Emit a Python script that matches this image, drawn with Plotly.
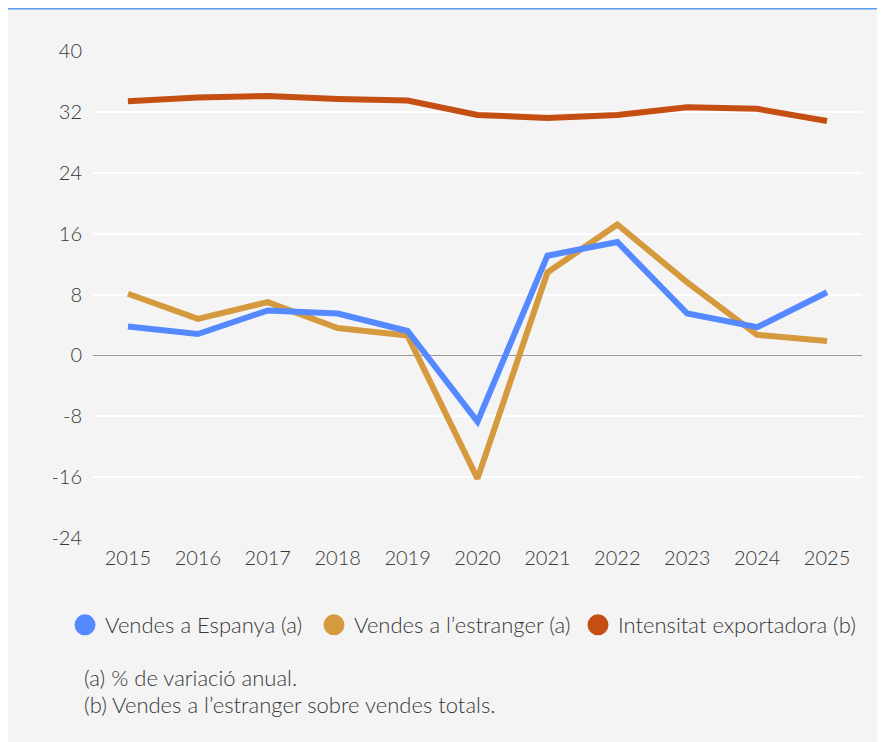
import plotly.graph_objects as go

years = [2015, 2016, 2017, 2018, 2019, 2020, 2021, 2022, 2023, 2024, 2025]
vendes_espanya = [3.8, 2.8, 5.9, 5.5, 3.2, -8.7, 13.1, 14.9, 5.5, 3.7, 8.3]
vendes_estranger = [8.1, 4.8, 7.0, 3.6, 2.6, -16.2, 10.9, 17.2, 9.6, 2.7, 1.9]
intensitat = [33.4, 33.9, 34.1, 33.7, 33.5, 31.6, 31.2, 31.6, 32.6, 32.4, 30.8]
y_ticks = [-24, -16, -8, 0, 8, 16, 24, 32, 40]

names = ["Vendes a Espanya (a)", "Vendes a l\u2019estranger (a)", "Intensitat exportadora (b)"]
colors = ["#5589FF", "#D59A3E", "#C54E13"]
notes = ["(a) % de variació anual.", "(b) Vendes a l\u2019estranger sobre vendes totals."]

FONT = "Lato"
TXT = "#383838"

OFF = 8  # page body margin
W, H = 885 - OFF, 742 - OFF
ML, MR, MT, MB = 93 - OFF, 23, 51 - OFF, H - (538 - OFF)
PW, PH = W - ML - MR, H - MT - MB

def px_x(p):  # screen pixel -> paper
    return (p - OFF - ML) / PW

def px_y(p):
    return (H - MB - (p - OFF)) / PH

fig = go.Figure()

series = [vendes_estranger, intensitat, vendes_espanya]
order = [1, 2, 0]
for vals, idx in zip(series, order):
    fig.add_trace(go.Scatter(
        x=years, y=vals, mode="lines", name=names[idx], showlegend=False,
        line=dict(color=colors[idx], width=6), hoverinfo="x+y+name"))

legend_ids = ["legend", "legend2", "legend3"]
legend_starts = [65, 314, 578]
for i in range(3):
    fig.add_trace(go.Scatter(
        x=[None], y=[None], mode="markers", name=names[i], legend=legend_ids[i],
        marker=dict(color=colors[i], size=16, line=dict(color=colors[i], width=5))))

tickfont = dict(family=FONT, size=20, color=TXT, weight=300)
legfont = dict(family=FONT, size=22, color=TXT, weight=300)
legends = {}
for lid, xs in zip(legend_ids, legend_starts):
    legends[lid] = dict(orientation="h", x=px_x(xs), xanchor="left", y=px_y(625),
                        yanchor="middle", bgcolor="rgba(0,0,0,0)", font=legfont,
                        itemclick=False, itemdoubleclick=False)

fig.update_layout(
    width=W, height=H,
    margin=dict(l=ML, r=MR, t=MT, b=MB),
    paper_bgcolor="#f4f4f4", plot_bgcolor="#f4f4f4",
    font=dict(family=FONT, size=20, color=TXT, weight=300),
    xaxis=dict(range=[2014.5, 2025.5], tickmode="array", tickvals=years,
               ticktext=[str(y) for y in years], showgrid=False, zeroline=False,
               showline=False, ticks="", ticklabelstandoff=6, tickfont=tickfont),
    yaxis=dict(range=[-24, 40], tickmode="array", tickvals=y_ticks,
               ticktext=[str(v) for v in y_ticks], showgrid=True, gridcolor="#ffffff",
               gridwidth=2, zeroline=True, zerolinecolor="#999999", zerolinewidth=1,
               showline=False, ticks="", ticklabelstandoff=10, tickfont=tickfont),
    showlegend=True,
    **legends,
)

for note, yp in zip(notes, [677, 704]):
    fig.add_annotation(text=note, xref="paper", yref="paper", x=px_x(82), y=px_y(yp),
                       xanchor="left", yanchor="middle", showarrow=False, align="left",
                       font=dict(family=FONT, size=22, color=TXT, weight=300))

# top blue rule of the panel
fig.add_shape(type="line", xref="paper", yref="paper", x0=px_x(OFF), x1=px_x(885),
              y0=px_y(OFF + 0.75), y1=px_y(OFF + 0.75), line=dict(color="#5b9bf2", width=1.5),
              layer="above")

fig.write_html("out.html")
